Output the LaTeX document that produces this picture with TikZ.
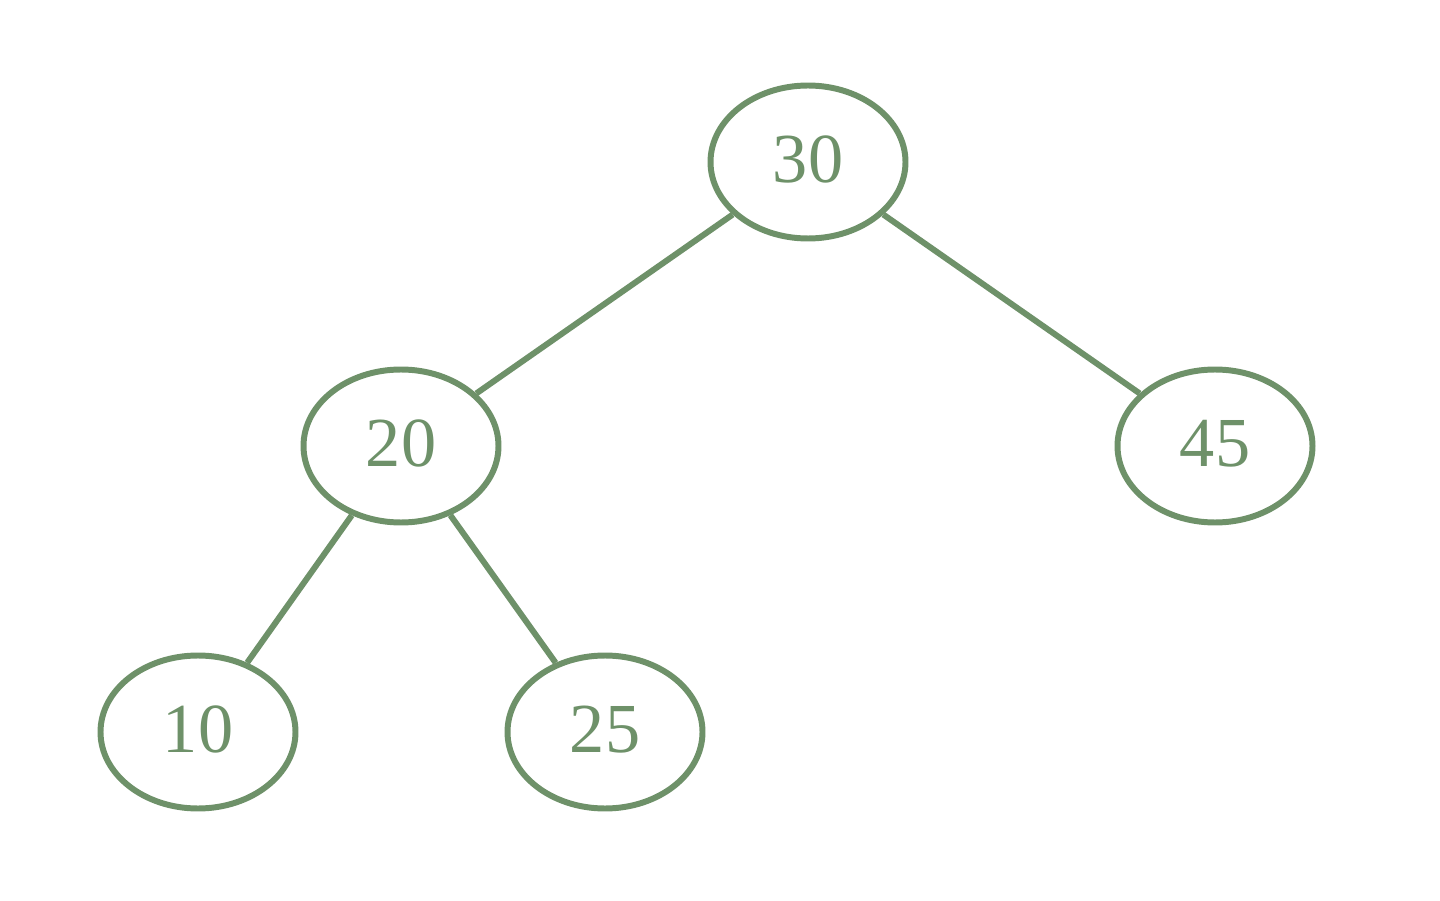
\documentclass[tikz,border=0pt]{standalone}
\usepackage{fontspec}
\setmainfont{Liberation Serif}
\usetikzlibrary{shapes.geometric}
\definecolor{treegreen}{RGB}{110,145,105}

\begin{document}
\begin{tikzpicture}[
    keynode/.style={ellipse, draw=treegreen, line width=3.4pt, inner sep=0pt,
        minimum width=3.9cm, minimum height=3.06cm, text=treegreen,
        font=\fontsize{40}{48}\selectfont},
    edge/.style={draw=treegreen, line width=3.4pt}
]
    % Fix the page size
    \useasboundingbox (0,0) rectangle (28.8,18);

    % Draw the keys
    \node[keynode] (n30) at (16.16,14.76) {\raisebox{0.1cm}{30}};
    \node[keynode] (n20) at (8.02,9.08) {\raisebox{0.1cm}{20}};
    \node[keynode] (n45) at (24.30,9.08) {\raisebox{0.1cm}{45}};
    \node[keynode] (n10) at (3.96,3.36) {\raisebox{0.1cm}{10}};
    \node[keynode] (n25) at (12.10,3.36) {\raisebox{0.1cm}{25}};

    % Draw the links
    \draw[edge] (n30) -- (n20);
    \draw[edge] (n30) -- (n45);
    \draw[edge] (n20) -- (n10);
    \draw[edge] (n20) -- (n25);
\end{tikzpicture}
\end{document}
